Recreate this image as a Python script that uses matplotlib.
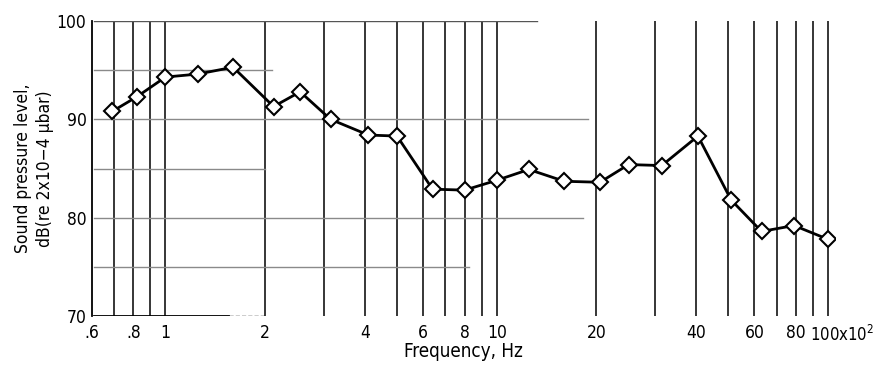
import matplotlib
matplotlib.use("Agg")
import matplotlib.pyplot as plt
import matplotlib.transforms as mtransforms

plt.rcParams['font.family'] = ['DejaVu Sans']
plt.rcParams['font.stretch'] = 'condensed'

# frequency in units of 10^2 Hz, level in dB
freq = [0.69, 0.82, 1.0, 1.25, 1.6, 2.12, 2.55, 3.15, 4.1, 5.0, 6.4, 8.0,
        10.0, 12.5, 16.0, 20.5, 25.0, 31.5, 40.5, 51.0, 63.0, 79.0, 100.0]
level = [90.8, 92.3, 94.3, 94.6, 95.3, 91.3, 92.8, 90.0, 88.4, 88.3, 82.9, 82.8,
         83.8, 84.9, 83.7, 83.6, 85.4, 85.3, 88.3, 81.8, 78.6, 79.2, 77.8]

grid_x = [0.7, 0.8, 0.9, 1, 2, 3, 4, 5, 6, 7, 8, 9, 10,
          20, 30, 40, 50, 60, 70, 80, 90, 100]
xticks = [0.6, 0.8, 1, 2, 4, 6, 8, 10, 20, 40, 60, 80]
xticklabels = ['.6', '.8', '1', '2', '4', '6', '8', '10', '20', '40', '60', '80']
yticks = [70, 80, 90, 100]
# horizontal rules and how far right they run (partial lines of the original)
hline_y = [75, 80, 85, 90, 95, 100]
hline_end = [8.25, 18.2, 2.0, 18.9, 2.1, 13.2]

fig = plt.figure(figsize=(8.77, 3.68), dpi=100)
ax = fig.add_axes([92/877, 1-316/368, (835-92)/877, (316-21)/368])
ax.set_xscale('log')
ax.set_xlim(0.61, 105)
ax.set_ylim(70, 100)

for s in ['top', 'right', 'bottom']:
    ax.spines[s].set_visible(False)
ax.spines['left'].set_linewidth(1.3)

ax.vlines(grid_x, 70, 100, colors='black', lw=1.1, zorder=1)
for y, xe in zip(hline_y, hline_end):
    c = '#555555' if y == 100 else '#8a8a8a'
    ax.plot([0.61, xe], [y, y], color=c, lw=1.0, zorder=1)
ax.plot([0.61, 1.55], [70, 70], color='black', lw=1.3, zorder=1)
ax.plot([1.55, 2.0], [70, 70], color='black', lw=1.0, ls=(0, (3, 1.5)), zorder=1)

ax.plot(freq, level, color='black', lw=2.0, marker='D', ms=8,
        mfc='white', mec='black', mew=1.5, zorder=3)

ax.set_xticks(xticks)
ax.set_xticklabels(xticklabels)
ax.xaxis.set_minor_locator(matplotlib.ticker.NullLocator())
ax.set_yticks(yticks)
ax.tick_params(axis='both', length=0, labelsize=12.5)
ax.tick_params(axis='x', pad=6)
ax.tick_params(axis='y', pad=4)

trans = mtransforms.blended_transform_factory(ax.transData, ax.transAxes)
ax.text(88.0, -0.085, '100x10$^{2}$', transform=trans, ha='left', va='baseline',
        fontsize=12)

ax.set_xlabel('Frequency, Hz', fontsize=13.5, labelpad=0)
ax.set_ylabel('Sound pressure level,\ndB(re 2x10\u22124 \u03bcbar)', fontsize=12.5,
              linespacing=1.25, labelpad=2)

fig.savefig('out.png', dpi=100)
